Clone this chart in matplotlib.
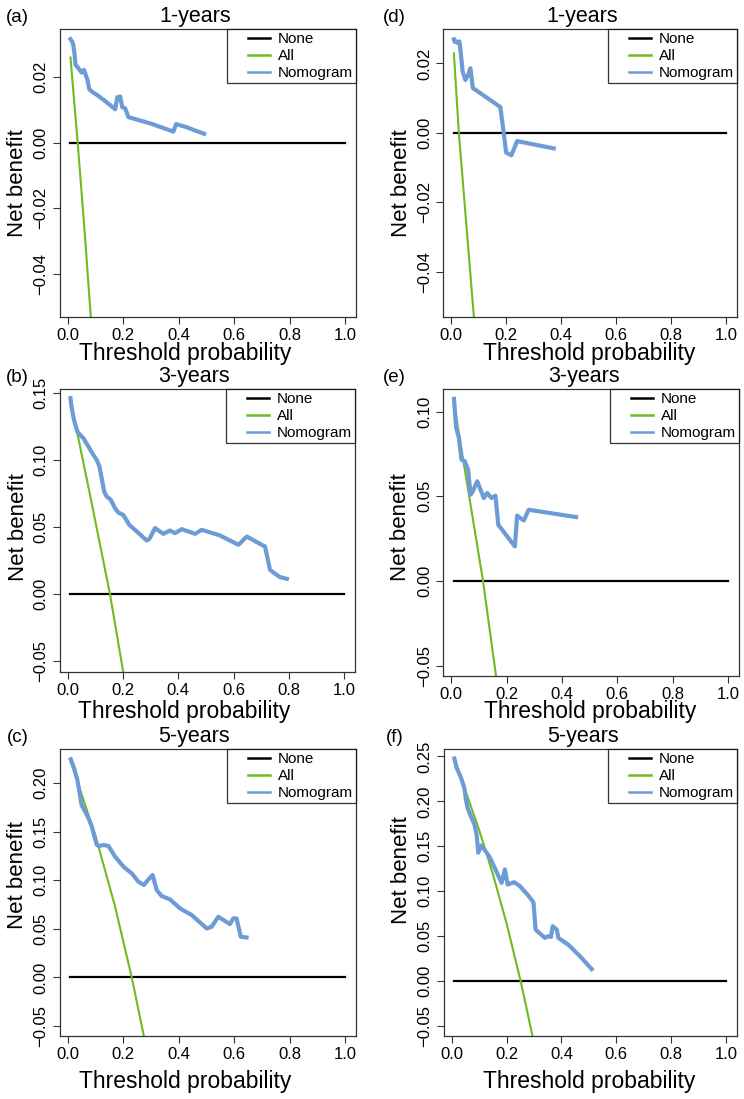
## decision curves, 1/3/5 years, two cohorts ##
import matplotlib

matplotlib.use("Agg")
import matplotlib.pyplot as plt
from matplotlib.legend_handler import HandlerLine2D

plt.rcParams["font.family"] = ["Liberation Sans", "DejaVu Sans"]

# threshold grid ends for the "None" line
none_x = [0.01, 1.0]
none_y = [0.0, 0.0]

# (a) 1-years
a_nomo_x = [0.01, 0.016, 0.020, 0.025, 0.028, 0.038, 0.050, 0.059, 0.071, 0.078, 0.087,
            0.105, 0.129, 0.153, 0.171, 0.179, 0.189, 0.197, 0.207, 0.219, 0.297, 0.381,
            0.391, 0.429, 0.492]
a_nomo_y = [0.0316, 0.0309, 0.0299, 0.0268, 0.0238, 0.0228, 0.0214, 0.0222, 0.0192, 0.0163,
            0.0156, 0.0146, 0.0131, 0.0115, 0.0102, 0.0139, 0.0141, 0.0108, 0.0105, 0.0078,
            0.0059, 0.0034, 0.0057, 0.0047, 0.0027]
a_all_x = [0.01, 0.036, 0.06, 0.09]
a_all_y = [0.026, 0.0, -0.026, -0.061]

# (b) 3-years
b_nomo_x = [0.01, 0.014, 0.023, 0.035, 0.045, 0.057, 0.075, 0.093, 0.105, 0.115, 0.123,
            0.132, 0.141, 0.156, 0.171, 0.183, 0.201, 0.223, 0.250, 0.286, 0.296, 0.316,
            0.346, 0.370, 0.388, 0.413, 0.461, 0.485, 0.551, 0.618, 0.648, 0.702, 0.714,
            0.732, 0.744, 0.768, 0.793]
b_nomo_y = [0.1463, 0.140, 0.130, 0.1214, 0.1189, 0.1164, 0.1102, 0.104, 0.1002, 0.0953,
            0.0866, 0.0766, 0.0729, 0.0704, 0.0642, 0.0609, 0.0592, 0.0517, 0.0468, 0.040,
            0.0413, 0.0493, 0.045, 0.0475, 0.0455, 0.0485, 0.045, 0.048, 0.0438, 0.0368,
            0.043, 0.0368, 0.0356, 0.0182, 0.0162, 0.0127, 0.0114]
b_all_x = [0.01, 0.08, 0.153, 0.201, 0.23]
b_all_y = [0.145, 0.075, 0.0, -0.0582, -0.095]

# (c) 5-years
c_nomo_x = [0.011, 0.023, 0.035, 0.044, 0.050, 0.063, 0.075, 0.087, 0.095, 0.105, 0.114,
            0.129, 0.147, 0.171, 0.201, 0.231, 0.255, 0.275, 0.291, 0.306, 0.321, 0.339,
            0.369, 0.405, 0.447, 0.501, 0.519, 0.543, 0.585, 0.597, 0.609, 0.624, 0.645]
c_nomo_y = [0.2247, 0.2155, 0.2034, 0.188, 0.1777, 0.1708, 0.164, 0.1553, 0.1467, 0.1364,
            0.1354, 0.1364, 0.1354, 0.1244, 0.1141, 0.1072, 0.0986, 0.0952, 0.101, 0.1055,
            0.090, 0.0838, 0.0804, 0.0711, 0.0643, 0.0505, 0.0522, 0.0625, 0.055, 0.0608,
            0.0608, 0.0419, 0.0412]
c_all_x = [0.01, 0.1, 0.17, 0.231, 0.275, 0.3]
c_all_y = [0.223, 0.146, 0.074, 0.0, -0.061, -0.099]

# (d) 1-years
d_nomo_x = [0.01, 0.013, 0.016, 0.023, 0.030, 0.034, 0.042, 0.052, 0.062, 0.070, 0.079,
            0.179, 0.191, 0.200, 0.219, 0.240, 0.373]
d_nomo_y = [0.0269, 0.0262, 0.0265, 0.0259, 0.0263, 0.0238, 0.0176, 0.0152, 0.0167, 0.0186,
            0.0129, 0.0074, 0.0, -0.0057, -0.0065, -0.0024, -0.0045]
d_all_x = [0.01, 0.028, 0.082, 0.09]
d_all_y = [0.0229, 0.0, -0.0524, -0.061]

# (e) 3-years
e_nomo_x = [0.01, 0.013, 0.018, 0.028, 0.037, 0.049, 0.061, 0.070, 0.078, 0.094, 0.118,
            0.130, 0.146, 0.160, 0.170, 0.230, 0.238, 0.262, 0.280, 0.451]
e_nomo_y = [0.1075, 0.101, 0.0904, 0.0844, 0.0717, 0.0707, 0.0657, 0.051, 0.053, 0.0589,
            0.049, 0.052, 0.049, 0.0504, 0.0333, 0.0205, 0.0386, 0.0358, 0.0421, 0.0378]
e_all_x = [0.01, 0.115, 0.162, 0.18]
e_all_y = [0.105, 0.0, -0.0559, -0.08]

# (f) 5-years
f_nomo_x = [0.01, 0.018, 0.034, 0.046, 0.052, 0.058, 0.070, 0.083, 0.091, 0.097, 0.107,
            0.115, 0.140, 0.182, 0.194, 0.204, 0.228, 0.249, 0.279, 0.298, 0.306, 0.340,
            0.350, 0.362, 0.368, 0.383, 0.389, 0.425, 0.468, 0.510]
f_nomo_y = [0.2476, 0.2375, 0.2264, 0.2152, 0.2022, 0.1929, 0.1836, 0.1743, 0.1632, 0.1428,
            0.1509, 0.1483, 0.1372, 0.1093, 0.1242, 0.1074, 0.110, 0.1056, 0.0952, 0.0877,
            0.0572, 0.048, 0.0498, 0.0491, 0.061, 0.0572, 0.048, 0.0405, 0.0275, 0.0134]
f_all_x = [0.01, 0.052, 0.10, 0.15, 0.20, 0.2515, 0.295, 0.31]
f_all_y = [0.244, 0.2104, 0.1683, 0.1194, 0.0644, 0.0, -0.0617, -0.085]

panels = [
    # letter, title, nomo, all, ylim, yticks, box (left, top, right, bottom px)
    ("(a)", "1-years", (a_nomo_x, a_nomo_y), (a_all_x, a_all_y), (-0.0532, 0.0347),
     [-0.04, -0.02, 0.0, 0.02], (59.5, 29, 356, 317)),
    ("(b)", "3-years", (b_nomo_x, b_nomo_y), (b_all_x, b_all_y), (-0.0582, 0.1532),
     [-0.05, 0.0, 0.05, 0.10, 0.15], (59.5, 389, 355, 672)),
    ("(c)", "5-years", (c_nomo_x, c_nomo_y), (c_all_x, c_all_y), (-0.0603, 0.2353),
     [-0.05, 0.0, 0.05, 0.10, 0.15, 0.20], (59.5, 749, 356, 1036)),
    ("(d)", "1-years", (d_nomo_x, d_nomo_y), (d_all_x, d_all_y), (-0.053, 0.0299),
     [-0.04, -0.02, 0.0, 0.02], (443, 29, 737, 316.7)),
    ("(e)", "3-years", (e_nomo_x, e_nomo_y), (e_all_x, e_all_y), (-0.0559, 0.1133),
     [-0.05, 0.0, 0.05, 0.10], (443, 389, 739, 676)),
    ("(f)", "5-years", (f_nomo_x, f_nomo_y), (f_all_x, f_all_y), (-0.0611, 0.2582),
     [-0.05, 0.0, 0.05, 0.10, 0.15, 0.20, 0.25], (443.5, 749, 737, 1036)),
]
# label placement (title x, xlabel x, xlabel y, ylabel x, ylabel y) in axes fraction
label_pos = [
    (0.457, 0.423, -0.127, -0.14, 0.465),
    (0.454, 0.423, -0.140, -0.14, 0.513),
    (0.454, 0.423, -0.157, -0.14, 0.561),
    (0.475, 0.497, -0.129, -0.142, 0.465),
    (0.475, 0.497, -0.125, -0.142, 0.52),
    (0.475, 0.497, -0.157, -0.142, 0.578),
]

W, H = 744, 1099
fig = plt.figure(figsize=(W / 100, H / 100), dpi=100)

blue = "#6d9bd6"
green = "#6ebc1e"


def fmt(v):
    s = "%.2f" % abs(v)
    return "\u2212" + s if v < 0 else s


for (letter, title, nomo, allc, ylim, yticks, box), lp in zip(panels, label_pos):
    l, t, r, b = box
    ax = fig.add_axes([l / W, 1 - b / H, (r - l) / W, (b - t) / H])
    ax.plot(none_x, none_y, color="black", lw=1.6, label="None")
    ax.plot(allc[0], allc[1], color=green, lw=1.5, label="All")
    ax.plot(nomo[0], nomo[1], color=blue, lw=3.0, label="Nomogram",
            solid_joinstyle="round")
    ax.set_xlim(-0.0296, 1.0396)
    ax.set_ylim(*ylim)
    ax.set_xticks([0.0, 0.2, 0.4, 0.6, 0.8, 1.0])
    ax.set_xticklabels(["0.0", "0.2", "0.4", "0.6", "0.8", "1.0"])
    ax.set_yticks(yticks)
    ax.set_yticklabels([fmt(v) for v in yticks])
    ax.tick_params(labelsize=12, length=5, width=0.8, color="#333333")
    ax.tick_params(axis="x", pad=3)
    ax.tick_params(axis="y", pad=3)
    for lab in ax.get_yticklabels():
        lab.set_rotation(90)
        lab.set_va("center")
    for sp in ax.spines.values():
        sp.set_color("#333333")
        sp.set_linewidth(0.9)

    ax.set_xlabel("Threshold probability", fontsize=16.5)
    ax.set_ylabel("Net benefit", fontsize=16)
    ax.xaxis.set_label_coords(lp[1], lp[2])
    ax.xaxis.label.set_va("center")
    ax.yaxis.set_label_coords(lp[3], lp[4])
    ax.yaxis.label.set_va("center")
    ax.text(lp[0], 1.025, title, transform=ax.transAxes, ha="center",
            va="baseline", fontsize=15.5)

    leg = ax.legend(loc="upper right", borderaxespad=0, fontsize=11,
                    frameon=True, fancybox=False, edgecolor="black",
                    handlelength=2.6, handletextpad=0.52, labelspacing=0.2,
                    borderpad=0.2,
                    handler_map={plt.Line2D: HandlerLine2D(xpad=1.16)})
    leg.get_frame().set_linewidth(0.9)
    for ln in leg.get_lines():
        ln.set_linewidth(1.8)

    fig.text((l - 42) / W if l < 300 else (l - 49) / W, 1 - (t - 12) / H, letter,
             fontsize=13.5, ha="center", va="center")

fig.savefig("out.png", dpi=100)
